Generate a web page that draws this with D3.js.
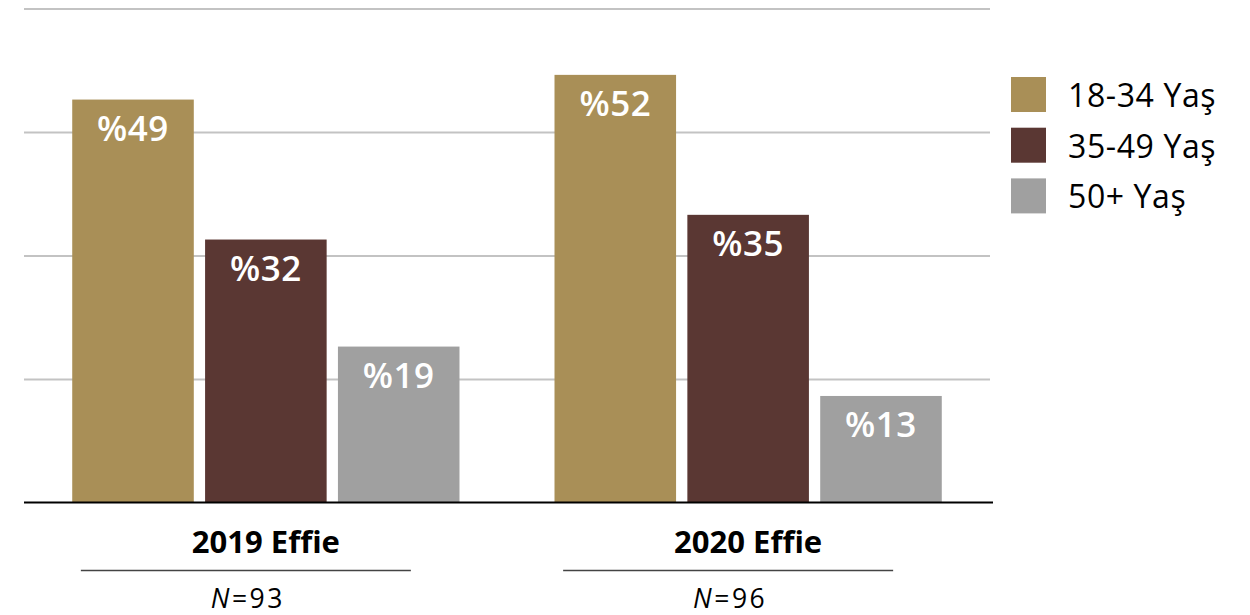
<!DOCTYPE html>
<html>
<head>
<meta charset="utf-8">
<script src="https://cdn.jsdelivr.net/npm/d3@7"></script>
<style>
  html, body { margin: 0; padding: 0; background: #fff; }
  svg { display: block; }
  text { font-family: "Open Sans", Lato, sans-serif; font-variant-ligatures: none; }
</style>
</head>
<body>
<svg id="chart" width="1250" height="615"></svg>
<script>
const categories = ["2019 Effie", "2020 Effie"];
const sampleSizes = ["93", "96"];
const series = ["18-34 Yaş", "35-49 Yaş", "50+ Yaş"];
const values2019 = [49, 32, 19];
const values2020 = [52, 35, 13];
const seriesValues = [values2019, values2020];
const yTicks = [15, 30, 45, 60];
const colors = ["#A98F57", "#5A3733", "#A0A0A0"];

const svg = d3.select("#chart");

const x0 = d3.scaleBand().domain(categories).range([24, 990])
  .paddingInner(0.197).paddingOuter(0.1);
const x1 = d3.scaleBand().domain(series).range([0, x0.bandwidth()])
  .paddingInner(0.085).paddingOuter(0);
const y = d3.scaleLinear().domain([0, 60]).range([503, 9]);
const color = d3.scaleOrdinal().domain(series).range(colors);

// gridlines
svg.append("g").selectAll("line").data(yTicks).join("line")
  .attr("x1", 24).attr("x2", 990)
  .attr("y1", d => y(d)).attr("y2", d => y(d))
  .attr("stroke", "#C3C3C3").attr("stroke-width", 2);

// bars
const groups = svg.append("g").selectAll("g").data(categories).join("g")
  .attr("transform", d => `translate(${x0(d)},0)`);

groups.each(function(cat, ci) {
  const g = d3.select(this);
  const data = series.map((s, si) => ({ s, v: seriesValues[ci][si] }));
  g.selectAll("rect").data(data).join("rect")
    .attr("x", d => x1(d.s))
    .attr("y", d => y(d.v))
    .attr("width", x1.bandwidth())
    .attr("height", d => y(0) - y(d.v))
    .attr("fill", d => color(d.s));
  g.selectAll("text.val").data(data).join("text")
    .attr("class", "val")
    .attr("x", d => x1(d.s) + x1.bandwidth() / 2)
    .attr("y", d => y(d.v) + 41)
    .attr("text-anchor", "middle")
    .attr("fill", "#fff")
    .attr("font-size", 35)
    .attr("font-weight", 600)
    .attr("letter-spacing", 0.5)
    .text(d => "%" + d.v);
});

// baseline
svg.append("line")
  .attr("x1", 24).attr("x2", 993)
  .attr("y1", y(0) - 0.5).attr("y2", y(0) - 0.5)
  .attr("stroke", "#000").attr("stroke-width", 2.2);

// category labels
const cl = svg.append("g").selectAll("g").data(categories).join("g")
  .attr("transform", d => `translate(${x0(d) + x0.bandwidth() / 2},0)`);
cl.append("text")
  .attr("x", 0).attr("y", 553)
  .attr("text-anchor", "middle")
  .attr("font-size", 31).attr("font-weight", 700).attr("fill", "#000")
  .text(d => d);
cl.append("line")
  .attr("x1", -185).attr("x2", 145)
  .attr("y1", 570.5).attr("y2", 570.5)
  .attr("stroke", "#444").attr("stroke-width", 1.4);
const nt = cl.append("text")
  .attr("x", -18).attr("y", 608)
  .attr("text-anchor", "middle")
  .attr("font-size", 26.5).attr("letter-spacing", 2.5).attr("fill", "#000");
nt.append("tspan").attr("font-style", "italic").text("N");
nt.append("tspan").text((d, i) => "=" + sampleSizes[i]);

// legend
const lg = svg.append("g").selectAll("g").data(series).join("g")
  .attr("transform", (d, i) => `translate(1011,${77 + i * 50.7})`);
lg.append("rect").attr("width", 35).attr("height", 35).attr("fill", d => color(d));
lg.append("text").attr("x", 57).attr("y", 30)
  .attr("font-size", 32).attr("letter-spacing", 0.6).attr("fill", "#000").text(d => d);
</script>
</body>
</html>
